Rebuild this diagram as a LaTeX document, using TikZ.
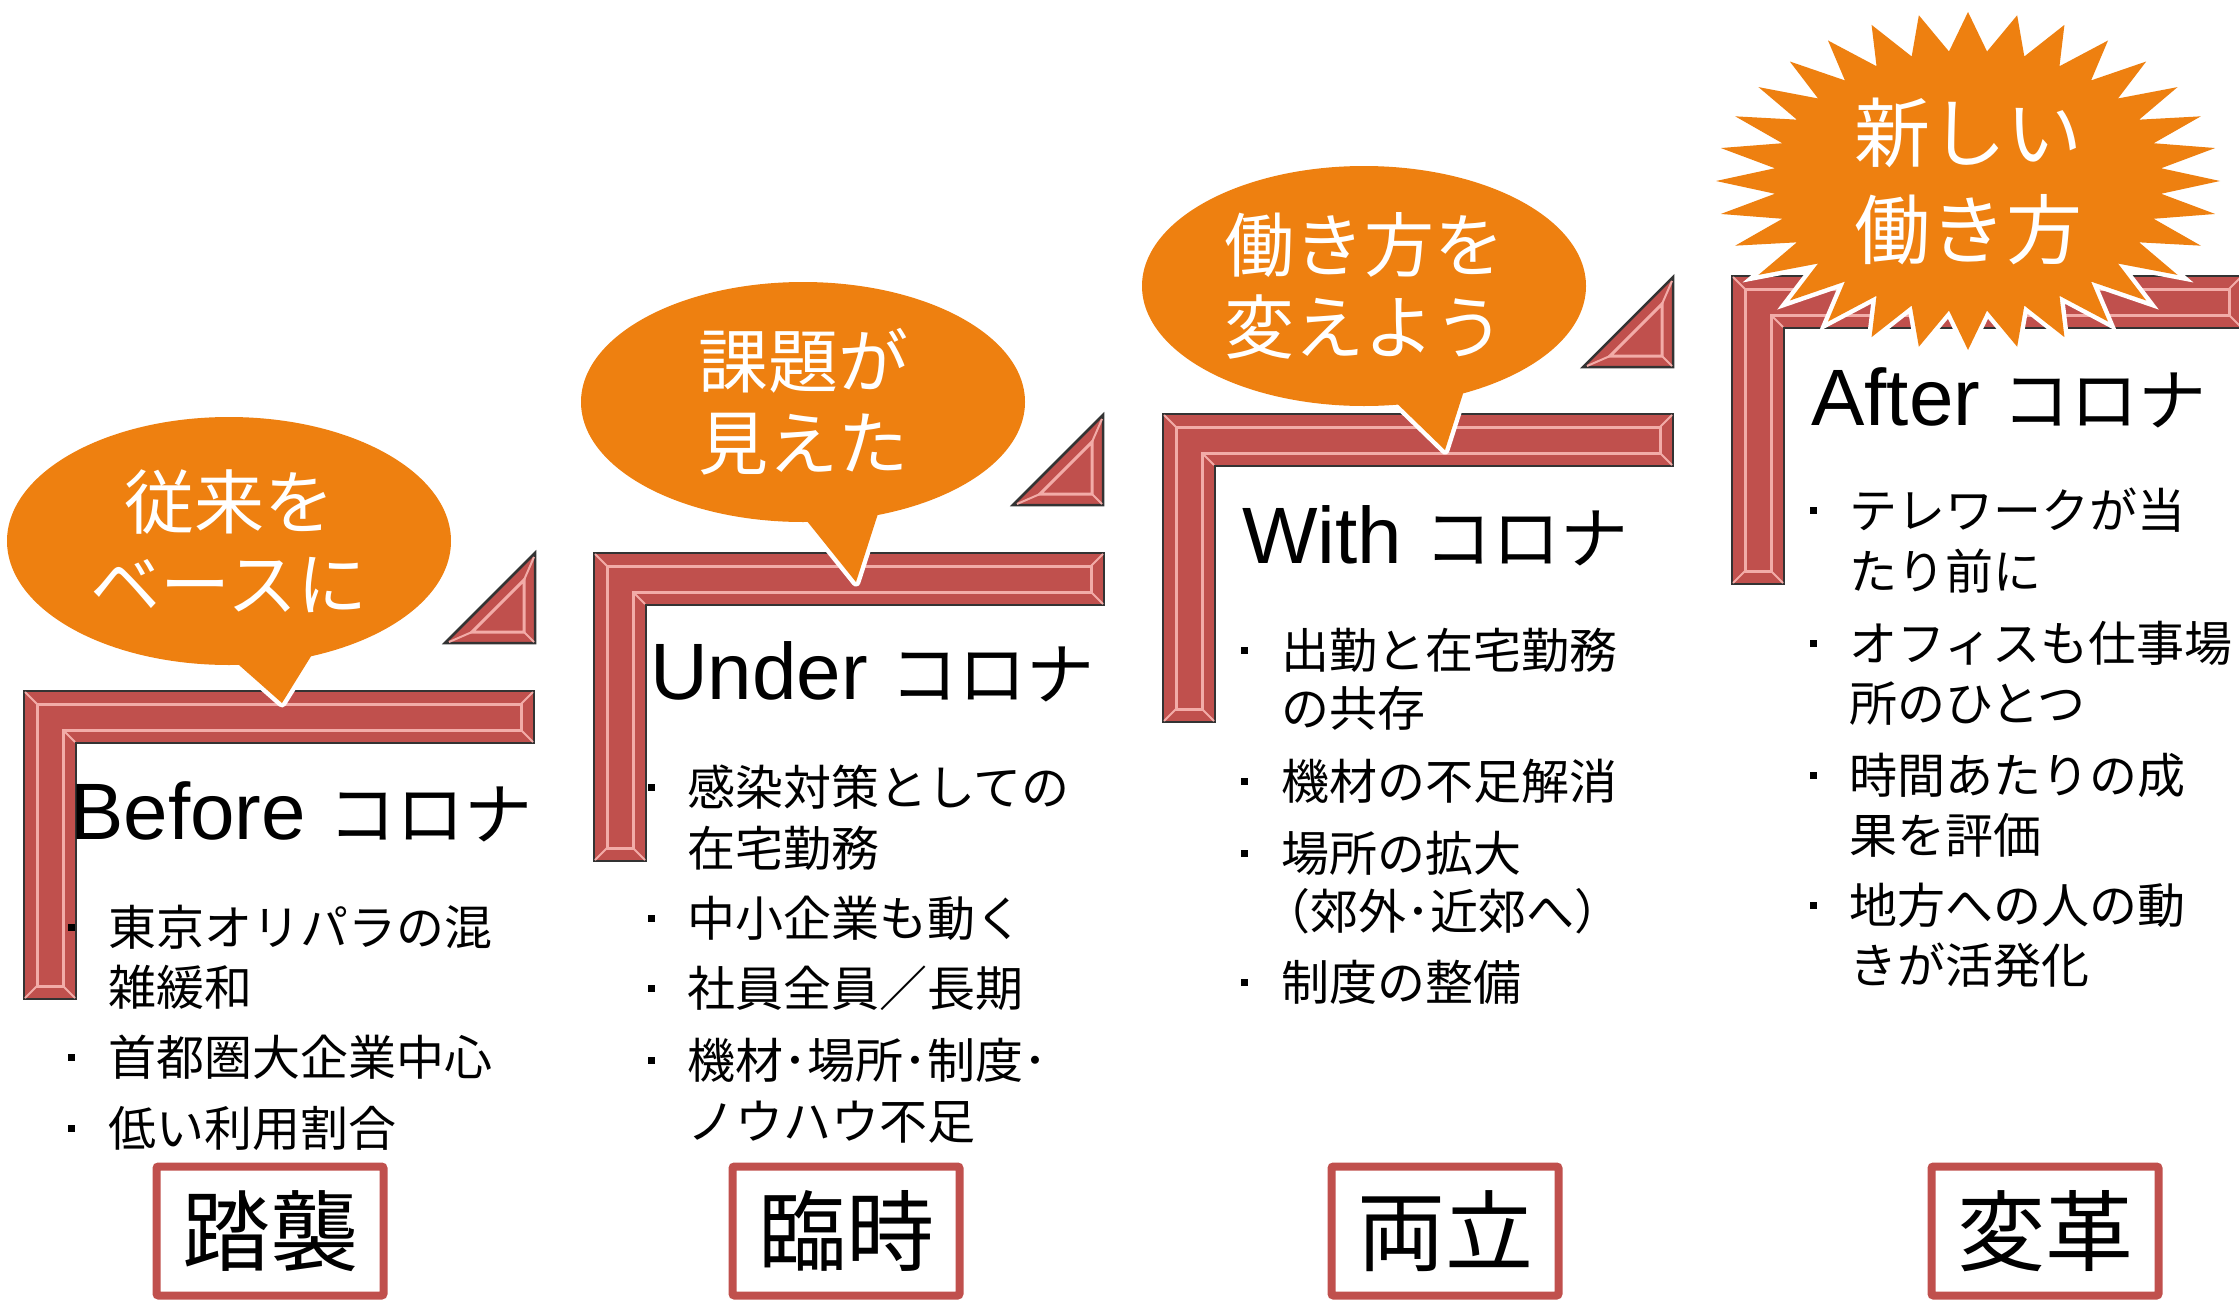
\documentclass[tikz,border=0pt]{standalone}
\usepackage{fontspec}
\setmainfont{Liberation Sans}
\newfontfamily\jp{Noto Sans CJK JP}
\usepackage{tikz}
\usetikzlibrary{shapes.geometric}
\usepackage{xcolor}

\definecolor{brkred}{HTML}{C0504D}
\definecolor{bevelpink}{HTML}{F2ACA8}
\definecolor{burstorange}{HTML}{EE8010}
\definecolor{edgegray}{HTML}{333333}

\tikzset{
    brk/.style={fill=brkred, draw=edgegray, line width=2.5pt},
    bevel/.style={draw=bevelpink, line width=3pt},
    miter/.style={draw=bevelpink, line width=2pt},
    tail/.style={fill=burstorange, preaction={draw=white, line width=9pt, line join=round}},
    bubble/.style={ellipse, fill=burstorange, minimum width=444pt, minimum height=240pt, inner sep=0pt,
        text=white, align=center, font=\jp\fontsize{70}{82}\selectfont},
    burst/.style={fill=burstorange, preaction={draw=white, line width=9pt}},
    bursttext/.style={text=white, align=center, inner sep=0pt, font=\jp\fontsize{76}{97}\selectfont},
    head/.style={anchor=base west, inner sep=0pt, font=\fontsize{80}{96}\selectfont},
    item/.style={anchor=base west, inner sep=0pt, font=\jp\fontsize{48}{60}\selectfont},
    dot/.style={fill=black, inner sep=0pt, minimum size=7pt},
    stagebox/.style={draw=brkred, line width=8pt, rounded corners=2pt, minimum width=227pt,
        minimum height=129pt, inner sep=0pt, font=\jp\fontsize{88}{100}\selectfont}
}

\newcommand{\kana}[1]{{\jp\fontsize{68}{80}\selectfont #1}}

\begin{document}
\begin{tikzpicture}[x=1pt, y=-1pt]
    % Page frame
    \useasboundingbox (0,0) rectangle (2239,1301);
    \clip (0,0) rectangle (2239,1301);

    % Draw the four steps
    \foreach \bx/\by in {24/691, 594/553, 1163/414, 1732/276} {
        \filldraw[brk] (\bx,\by) -- ++(510,0) -- ++(0,52) -- ++(-458,0) -- ++(0,256) -- ++(-52,0) -- cycle;
        \draw[bevel] (\bx+13,\by+13) -- ++(484,0) -- ++(0,26) -- ++(-458,0) -- ++(0,256) -- ++(-26,0) -- cycle;
        \draw[miter] (\bx+1,\by+1) -- ++(12,12) (\bx+509,\by+1) -- ++(-12,12) (\bx+509,\by+51) -- ++(-12,-12)
            (\bx+51,\by+51) -- ++(-12,-12) (\bx+51,\by+307) -- ++(-12,-12) (\bx+1,\by+307) -- ++(12,-12);
    }

    % Small triangles at the step ends
    \foreach \tx/\ty in {445/553, 1013/415, 1583/277} {
        \filldraw[brk] (\tx,\ty+90) -- (\tx+90,\ty) -- (\tx+90,\ty+90) -- cycle;
        \draw[bevel] (\tx+27,\ty+79) -- (\tx+79,\ty+27) -- (\tx+79,\ty+79) -- cycle;
        \draw[miter] (\tx+4,\ty+89) -- (\tx+27,\ty+79) (\tx+89,\ty+4) -- (\tx+79,\ty+27) (\tx+89,\ty+89) -- (\tx+79,\ty+79);
    }

    % Speech bubbles
    \path[tail] (222,650) -- (282,703) -- (318,645) -- cycle;
    \node[bubble, minimum height=248pt] (Bubble1) at (229,541) {従来を\\ベースに};

    \path[tail] (790,500) -- (856,582) -- (884,495) -- cycle;
    \node[bubble] (Bubble2) at (803,402) {課題が\\見えた};

    \path[tail] (1378,385) -- (1445,450) -- (1468,378) -- cycle;
    \node[bubble] (Bubble3) at (1364,286) {働き方を\\変えよう};

    % Burst over the last step
    \path[burst] plot[domain=0:63, samples=64, variable=\k]
        ({1968+252*(1-0.23*mod(round(\k),2))*cos(\k*5.625-90)},
         {181+169*(1-0.23*mod(round(\k),2))*sin(\k*5.625-90)}) -- cycle;
    \node[bursttext] (Burst) at (1968,181) {新しい\\働き方};

    % Headings
    \node[head] (Head1) at (70,839) {Before \kana{コロナ}};
    \node[head] (Head2) at (650,699) {Under \kana{コロナ}};
    \node[head] (Head3) at (1242,563) {With \kana{コロナ}};
    \node[head] (Head4) at (1811,425) {After \kana{コロナ}};

    % Bullet lists
    \foreach \y/\t [count=\i] in {945/東京オリパラの混, 1005/雑緩和, 1075/首都圏大企業中心, 1146/低い利用割合}
        \node[item] (ItemA\i) at (108,\y) {\t};
    \foreach \y [count=\i] in {927, 1057, 1128}
        \node[dot] (DotA\i) at (71,\y) {};

    \foreach \y/\t [count=\i] in {805/感染対策としての, 866/在宅勤務, 936/中小企業も動く, 1006/社員全員／長期, 1078/機材･場所･制度･, 1139/ノウハウ不足}
        \node[item] (ItemB\i) at (687,\y) {\t};
    \foreach \y [count=\i] in {787, 918, 988, 1060}
        \node[dot] (DotB\i) at (651,\y) {};

    \foreach \y/\t [count=\i] in {668/出勤と在宅勤務, 726/の共存, 799/機材の不足解消, 871/場所の拡大, 1000/制度の整備}
        \node[item] (ItemC\i) at (1281,\y) {\t};
    \node[item] (ItemC6) at (1262,929) {（郊外･近郊へ）};
    \foreach \y [count=\i] in {650, 781, 853, 982}
        \node[dot] (DotC\i) at (1244,\y) {};

    \foreach \y/\t [count=\i] in {528/テレワークが当, 589/たり前に, 661/オフィスも仕事場, 721/所のひとつ, 793/時間あたりの成, 853/果を評価, 923/地方への人の動, 983/きが活発化}
        \node[item] (ItemD\i) at (1849,\y) {\t};
    \foreach \y [count=\i] in {510, 643, 775, 905}
        \node[dot] (DotD\i) at (1813,\y) {};

    % Keywords at the bottom
    \node[stagebox] (Box1) at (270,1231) {踏襲};
    \node[stagebox] (Box2) at (846,1231) {臨時};
    \node[stagebox] (Box3) at (1445,1231) {両立};
    \node[stagebox] (Box4) at (2045,1231) {変革};

\end{tikzpicture}
\end{document}
